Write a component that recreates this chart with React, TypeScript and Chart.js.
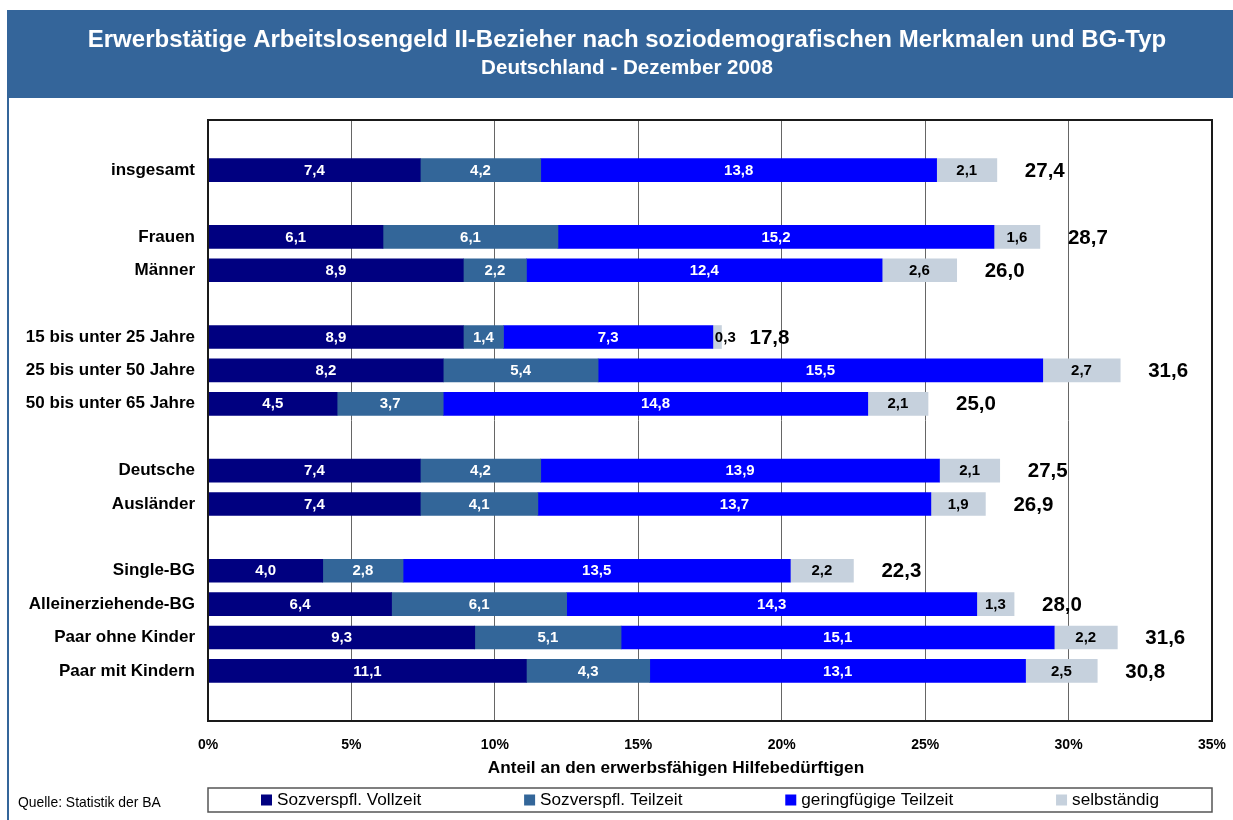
import React, { useEffect, useRef } from 'react';
import { Chart, registerables } from 'chart.js';

Chart.register(...registerables);

const TITLE = 'Erwerbstätige Arbeitslosengeld II-Bezieher nach soziodemografischen Merkmalen und BG-Typ';
const SUBTITLE = 'Deutschland - Dezember 2008';
const X_TITLE = 'Anteil an den erwerbsfähigen Hilfebedürftigen';
const SOURCE = 'Quelle: Statistik der BA';

const categories = [
  '', 'insgesamt', '', 'Frauen', 'Männer', '',
  '15 bis unter 25 Jahre', '25 bis unter 50 Jahre', '50 bis unter 65 Jahre', '',
  'Deutsche', 'Ausländer', '',
  'Single-BG', 'Alleinerziehende-BG', 'Paar ohne Kinder', 'Paar mit Kindern', '',
];

const vollzeit = [null, 7.4, null, 6.1, 8.9, null, 8.9, 8.2, 4.5, null, 7.4, 7.4, null, 4.0, 6.4, 9.3, 11.1, null];
const teilzeit = [null, 4.2, null, 6.1, 2.2, null, 1.4, 5.4, 3.7, null, 4.2, 4.1, null, 2.8, 6.1, 5.1, 4.3, null];
const geringfuegig = [null, 13.8, null, 15.2, 12.4, null, 7.3, 15.5, 14.8, null, 13.9, 13.7, null, 13.5, 14.3, 15.1, 13.1, null];
const selbstaendig = [null, 2.1, null, 1.6, 2.6, null, 0.3, 2.7, 2.1, null, 2.1, 1.9, null, 2.2, 1.3, 2.2, 2.5, null];
const totals = [null, 27.4, null, 28.7, 26.0, null, 17.8, 31.6, 25.0, null, 27.5, 26.9, null, 22.3, 28.0, 31.6, 30.8, null];

const seriesNames = ['Sozverspfl. Vollzeit', 'Sozverspfl. Teilzeit', 'geringfügige Teilzeit', 'selbständig'];
const seriesColors = ['#000080', '#336699', '#0000FF', '#C6D1DD'];
const labelColors = ['#FFFFFF', '#FFFFFF', '#FFFFFF', '#000000'];

const X_MIN = 0;
const X_MAX = 35;
const X_STEP = 5;

const FONT = "Arial, 'Liberation Sans', Helvetica, sans-serif";
const fmt = (v: number) => v.toFixed(1).replace('.', ',');

const decorPlugin = {
  id: 'decor',
  beforeDraw(chart: any) {
    const ctx = chart.ctx;
    ctx.save();
    ctx.fillStyle = '#FFFFFF';
    ctx.fillRect(0, 0, chart.width, chart.height);
    ctx.fillStyle = '#34659A';
    ctx.fillRect(7, 10, chart.width, 88);
    ctx.fillRect(7, 98, 2, chart.height - 98);
    ctx.fillStyle = '#FFFFFF';
    ctx.textAlign = 'center';
    ctx.textBaseline = 'middle';
    ctx.font = `bold 24px ${FONT}`;
    ctx.fillText(TITLE, 627, 40);
    ctx.font = `bold 20.6px ${FONT}`;
    ctx.fillText(SUBTITLE, 627, 68);
    ctx.restore();
  },
  afterDatasetsDraw(chart: any) {
    const ctx = chart.ctx;
    ctx.save();
    ctx.textBaseline = 'middle';
    ctx.font = `bold 15px ${FONT}`;
    chart.data.datasets.forEach((ds: any, di: number) => {
      const meta = chart.getDatasetMeta(di);
      meta.data.forEach((el: any, i: number) => {
        const v = ds.data[i];
        if (v === null || v === undefined) return;
        const txt = fmt(v);
        const c = el.getCenterPoint();
        const segW = Math.abs(el.x - el.base);
        const tw = ctx.measureText(txt).width;
        ctx.fillStyle = labelColors[di];
        if (tw > segW) {
          ctx.textAlign = 'left';
          ctx.fillText(txt, Math.min(el.base, el.x) + 2, c.y + 0.5);
        } else {
          ctx.textAlign = 'center';
          ctx.fillText(txt, c.x, c.y + 0.5);
        }
      });
    });
    const last = chart.getDatasetMeta(chart.data.datasets.length - 1);
    ctx.textAlign = 'left';
    ctx.fillStyle = '#000000';
    ctx.font = `bold 20.5px ${FONT}`;
    last.data.forEach((el: any, i: number) => {
      const t = totals[i];
      if (t === null || t === undefined) return;
      ctx.fillText(fmt(t), el.x + 28, el.y + 1);
    });
    ctx.restore();
  },
  afterDraw(chart: any) {
    const ctx = chart.ctx;
    const ca = chart.chartArea;
    ctx.save();
    ctx.strokeStyle = '#1A1A1A';
    ctx.lineWidth = 2;
    ctx.strokeRect(ca.left, ca.top, ca.right - ca.left, ca.bottom - ca.top);
    ctx.fillStyle = '#000000';
    ctx.textAlign = 'center';
    ctx.textBaseline = 'middle';
    ctx.font = `bold 17.2px ${FONT}`;
    ctx.fillText(X_TITLE, 676, 768);
    const top = 788, bottom = 812;
    ctx.strokeStyle = '#555555';
    ctx.lineWidth = 1.5;
    ctx.strokeRect(ca.left, top, ca.right - ca.left, bottom - top);
    ctx.font = `17.2px ${FONT}`;
    ctx.textAlign = 'left';
    const sq = 11, gapSq = 5, margin = 53;
    const widths = chart.data.datasets.map((ds: any) => sq + gapSq + ctx.measureText(ds.label).width);
    const sum = widths.reduce((a: number, b: number) => a + b, 0);
    const n = widths.length;
    const gap = (ca.right - ca.left - 2 * margin - sum) / (n - 1);
    let x = ca.left + margin;
    const cy = (top + bottom) / 2;
    chart.data.datasets.forEach((ds: any, i: number) => {
      ctx.fillStyle = ds.backgroundColor;
      ctx.fillRect(x, cy - 5.5, sq, sq);
      ctx.fillStyle = '#000000';
      ctx.fillText(ds.label, x + sq + gapSq, cy + 0.5);
      x += widths[i] + gap;
    });
    ctx.font = `13.9px ${FONT}`;
    ctx.fillText(SOURCE, 18, 803);
    ctx.restore();
  },
};

export default function App() {
  const canvasRef = useRef<HTMLCanvasElement | null>(null);

  useEffect(() => {
    document.body.style.margin = '0';
    const canvas = canvasRef.current;
    if (!canvas) return;
    const series = [vollzeit, teilzeit, geringfuegig, selbstaendig];
    const chart = new Chart(canvas, {
      type: 'bar',
      data: {
        labels: categories,
        datasets: series.map((d, i) => ({
          label: seriesNames[i],
          data: d,
          backgroundColor: seriesColors[i],
          borderWidth: 0,
          barThickness: 23,
        })),
      },
      options: {
        indexAxis: 'y',
        responsive: false,
        animation: false,
        devicePixelRatio: 1,
        layout: { padding: { top: 120, right: 21, bottom: 0, left: 0 } },
        plugins: {
          legend: { display: false },
          title: { display: false },
          tooltip: { enabled: false },
        },
        scales: {
          x: {
            type: 'linear',
            stacked: true,
            min: X_MIN,
            max: X_MAX,
            position: 'bottom',
            ticks: {
              stepSize: X_STEP,
              padding: 16,
              color: '#000000',
              font: { family: FONT, size: 14, weight: 'bold' },
              callback: (v: any) => `${v}%`,
            },
            grid: { display: true, color: '#666666', lineWidth: 1, drawTicks: false },
            border: { display: false },
            afterFit: (scale: any) => {
              scale.height = 99;
              scale.paddingRight = 0;
              scale.paddingLeft = 0;
            },
          },
          y: {
            type: 'category',
            stacked: true,
            ticks: {
              autoSkip: false,
              padding: 13,
              color: '#000000',
              font: { family: FONT, size: 17, weight: 'bold' },
            },
            grid: { display: false, drawTicks: false },
            border: { display: false },
            afterFit: (scale: any) => {
              scale.width = 208;
              scale.paddingTop = 0;
              scale.paddingBottom = 0;
            },
          },
        },
      },
      plugins: [decorPlugin],
    });
    return () => chart.destroy();
  }, []);

  return (
    <div style={{ position: 'relative', width: 1233, height: 820 }}>
      <canvas ref={canvasRef} width={1233} height={820} style={{ display: 'block', width: 1233, height: 820 }} />
    </div>
  );
}
